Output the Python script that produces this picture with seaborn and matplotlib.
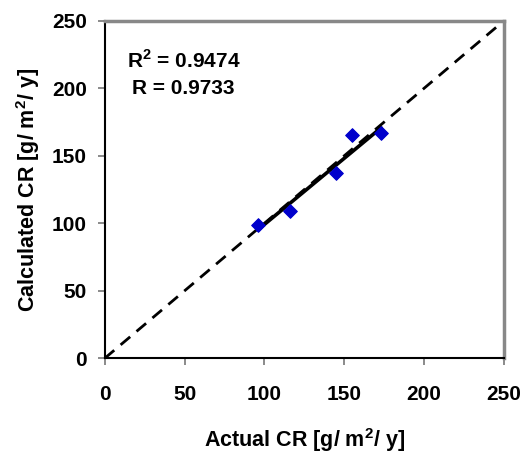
import numpy as np
import pandas as pd
import matplotlib
matplotlib.use("Agg")
import matplotlib.pyplot as plt
import seaborn as sns

actual_cr = [96, 116, 145, 155, 173]
calculated_cr = [99, 109, 137, 165, 167]
r2_text = "R$^{2}$ = 0.9474"
r_text = "R = 0.9733"
ticks = [0, 50, 100, 150, 200, 250]

df = pd.DataFrame({"actual": actual_cr, "calc": calculated_cr})

sns.set_style("white")
plt.rcParams['font.family'] = ['Liberation Sans', 'DejaVu Sans']
plt.rcParams['mathtext.fontset'] = 'custom'
plt.rcParams['mathtext.rm'] = 'Liberation Sans:bold'
plt.rcParams['mathtext.bf'] = 'Liberation Sans:bold'
plt.rcParams['text.color'] = 'black'
plt.rcParams['axes.labelcolor'] = 'black'
plt.rcParams['xtick.labelcolor'] = 'black'
plt.rcParams['ytick.labelcolor'] = 'black'

fig = plt.figure(figsize=(5.23, 4.55), dpi=100)
ax = fig.add_axes([0.2002, 0.2125, 0.7635, 0.742])

ax.plot([0, 250], [0, 250], ls=(0, (4.5, 3)), color="black", lw=2, zorder=1)
sns.regplot(data=df, x="actual", y="calc", ci=None, ax=ax, marker="D",
            scatter_kws=dict(s=48, color="#0000CC", edgecolors="#0000CC", linewidths=0.8, alpha=1, zorder=3),
            line_kws=dict(color="black", lw=2.6, zorder=2))

ax.set_xlim(0, 250)
ax.set_ylim(0, 250)
ax.set_xticks(ticks)
ax.set_yticks(ticks)
ax.tick_params(axis="both", labelsize=15, length=5, width=1.2, color="#777777", direction="out",
               bottom=True, left=True, labelcolor="black")
ax.tick_params(axis="x", pad=14)
ax.tick_params(axis="y", pad=8)
for lab in ax.get_xticklabels() + ax.get_yticklabels():
    lab.set_fontweight("bold")
for s in ["left", "bottom"]:
    ax.spines[s].set_color("black")
    ax.spines[s].set_linewidth(1.5)
for s in ["top", "right"]:
    ax.spines[s].set_color("#888888")
    ax.spines[s].set_linewidth(2.5)

ax.set_xlabel("Actual CR [g/ m$^{2}$/ y]", fontsize=15.5, fontweight="bold", labelpad=16, color="black")
ax.set_ylabel("Calculated CR [g/ m$^{2}$/ y]", fontsize=15.5, fontweight="bold", labelpad=7, color="black")

ax.text(13.8, 220.8, r2_text, fontsize=15, fontweight="bold", va="center", color="black")
ax.text(16.9, 199.8, r_text, fontsize=15, fontweight="bold", va="center", color="black")

fig.savefig("out.png", dpi=100)
